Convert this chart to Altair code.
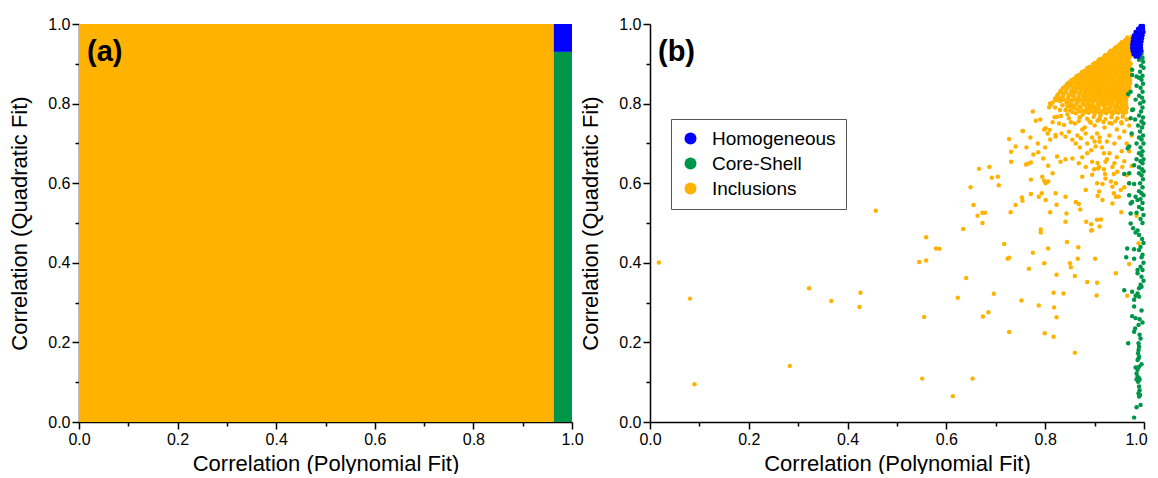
import altair as alt
import pandas as pd

# ---------------- Panel (a): classification regions ----------------
region_names = ["Inclusions", "Core-Shell", "Homogeneous"]
region_x0 = [0.0, 0.963, 0.963]
region_x1 = [0.963, 1.0, 1.0]
region_y0 = [0.0, 0.0, 0.93]
region_y1 = [1.0, 0.93, 1.0]

categories = ["Homogeneous", "Core-Shell", "Inclusions"]
colors = ["#0000FF", "#00964A", "#FFB300"]

tick_values = [0.0, 0.1, 0.2, 0.3, 0.4, 0.5, 0.6, 0.7, 0.8, 0.9, 1.0]
x_title = "Correlation (Polynomial Fit)"
y_title = "Correlation (Quadratic Fit)"

# ---------------- Panel (b): measured particles ----------------
inclusions_sparse = [
    (0.018, 0.401), (0.081, 0.310), (0.090, 0.095), (0.283, 0.141), (0.322, 0.336),
    (0.367, 0.304), (0.426, 0.325), (0.424, 0.289), (0.457, 0.531), (0.545, 0.402),
    (0.559, 0.406), (0.551, 0.109), (0.653, 0.109), (0.613, 0.065), (0.555, 0.264),
    (0.674, 0.265), (0.685, 0.276), (0.623, 0.312), (0.696, 0.322), (0.640, 0.362),
    (0.727, 0.226), (0.799, 0.223), (0.817, 0.214), (0.860, 0.174), (0.752, 0.305),
    (0.787, 0.293), (0.818, 0.288), (0.823, 0.263), (0.817, 0.325), (0.837, 0.323),
    (0.904, 0.318), (0.966, 0.317), (0.885, 0.352), (0.905, 0.350), (0.823, 0.370),
    (0.860, 0.367), (0.943, 0.374), (0.970, 0.397), (0.767, 0.385), (0.775, 0.425),
    (0.724, 0.410), (0.727, 0.413), (0.798, 0.399), (0.850, 0.399), (0.852, 0.389),
    (0.866, 0.410), (0.901, 0.410), (0.844, 0.452), (0.867, 0.439), (0.806, 0.436),
    (0.717, 0.447), (0.579, 0.436), (0.586, 0.435), (0.559, 0.464), (0.791, 0.484),
    (0.791, 0.476), (0.634, 0.485), (0.673, 0.500), (0.663, 0.518), (0.673, 0.526),
    (0.678, 0.526), (0.730, 0.527), (0.810, 0.527), (0.823, 0.546), (0.862, 0.553),
    (0.871, 0.534), (0.843, 0.524), (0.841, 0.503), (0.883, 0.503), (0.893, 0.497),
    (0.895, 0.482), (0.893, 0.481), (0.905, 0.508), (0.913, 0.509), (0.910, 0.491),
    (0.954, 0.527), (0.985, 0.518), (0.989, 0.449),
]

inclusions_mid = [
    (0.655, 0.545), (0.740, 0.545), (0.753, 0.564), (0.754, 0.556), (0.771, 0.573),
    (0.793, 0.575), (0.649, 0.590), (0.706, 0.595), (0.692, 0.614), (0.704, 0.616),
    (0.771, 0.609), (0.798, 0.606), (0.806, 0.604), (0.666, 0.636), (0.687, 0.641),
    (0.731, 0.654), (0.761, 0.647), (0.765, 0.649), (0.771, 0.652), (0.806, 0.644),
    (0.776, 0.672), (0.786, 0.678), (0.796, 0.662), (0.731, 0.679), (0.740, 0.692),
    (0.727, 0.711), (0.755, 0.731), (0.781, 0.757), (0.798, 0.735),
    (0.895, 0.654), (0.906, 0.651), (0.899, 0.635), (0.907, 0.637), (0.919, 0.635),
    (0.921, 0.623), (0.939, 0.623), (0.933, 0.604), (0.936, 0.591), (0.953, 0.583),
    (0.939, 0.575), (0.943, 0.566), (0.906, 0.568), (0.916, 0.598), (0.975, 0.643),
    (0.956, 0.641),
    (0.821, 0.575), (0.841, 0.566), (0.868, 0.548), (0.882, 0.583), (0.909, 0.579),
    (0.916, 0.558), (0.936, 0.549), (0.949, 0.566), (0.868, 0.650), (0.882, 0.641),
    (0.909, 0.641), (0.922, 0.654), (0.936, 0.641), (0.946, 0.629), (0.875, 0.616),
    (0.895, 0.621), (0.922, 0.612), (0.943, 0.600), (0.905, 0.600), (0.855, 0.662),
    (0.841, 0.660), (0.831, 0.654), (0.824, 0.667), (0.893, 0.683), (0.902, 0.692),
    (0.910, 0.704), (0.919, 0.675), (0.801, 0.600), (0.815, 0.625), (0.794, 0.616),
    (0.787, 0.566), (0.801, 0.558),
    (0.821, 0.717), (0.833, 0.725), (0.841, 0.717), (0.848, 0.729), (0.855, 0.709),
    (0.862, 0.700), (0.872, 0.713), (0.882, 0.725), (0.828, 0.750), (0.838, 0.746),
    (0.801, 0.738), (0.809, 0.734), (0.819, 0.766), (0.830, 0.784), (0.832, 0.769),
    (0.852, 0.792), (0.860, 0.796), (0.835, 0.796), (0.841, 0.784), (0.808, 0.791),
    (0.812, 0.798), (0.821, 0.809), (0.828, 0.813), (0.855, 0.834), (0.854, 0.822),
    (0.815, 0.753), (0.824, 0.767), (0.821, 0.721), (0.754, 0.731), (0.790, 0.760),
    (0.805, 0.725), (0.785, 0.700), (0.770, 0.715), (0.762, 0.690), (0.800, 0.690),
    (0.810, 0.710), (0.775, 0.780), (0.820, 0.790), (0.835, 0.810), (0.810, 0.800),
    (0.870, 0.690), (0.885, 0.700), (0.895, 0.715), (0.905, 0.725), (0.915, 0.690),
    (0.925, 0.705), (0.930, 0.720), (0.940, 0.700), (0.950, 0.715), (0.960, 0.730),
    (0.965, 0.700), (0.955, 0.680), (0.945, 0.665), (0.930, 0.675), (0.960, 0.655),
    (0.970, 0.680), (0.975, 0.720), (0.880, 0.740), (0.890, 0.755), (0.900, 0.745),
    (0.910, 0.760), (0.920, 0.740), (0.935, 0.750), (0.945, 0.735), (0.955, 0.750),
    (0.965, 0.760), (0.970, 0.745), (0.860, 0.750), (0.870, 0.765), (0.875, 0.735),
    (0.865, 0.720), (0.900, 0.705), (0.910, 0.715), (0.885, 0.675), (0.875, 0.665),
    (0.925, 0.660), (0.940, 0.650), (0.965, 0.620), (0.970, 0.600), (0.960, 0.590),
]

inclusions_dense = [
    (0.966, 0.966), (0.972, 0.962), (0.975, 0.968), (0.962, 0.959), (0.969, 0.960),
    (0.955, 0.954), (0.961, 0.957), (0.967, 0.953), (0.973, 0.956),
    (0.952, 0.950), (0.958, 0.951), (0.964, 0.949), (0.970, 0.951),
    (0.944, 0.943), (0.950, 0.947), (0.957, 0.944), (0.963, 0.946), (0.970, 0.942), (0.975, 0.947),
    (0.941, 0.939), (0.948, 0.940), (0.955, 0.940), (0.962, 0.939), (0.969, 0.938), (0.974, 0.940),
    (0.933, 0.933), (0.940, 0.936), (0.947, 0.932), (0.954, 0.937), (0.961, 0.934), (0.968, 0.931),
    (0.974, 0.936),
    (0.930, 0.929), (0.937, 0.930), (0.944, 0.929), (0.951, 0.930), (0.958, 0.929), (0.965, 0.928),
    (0.972, 0.930),
    (0.922, 0.922), (0.930, 0.926), (0.937, 0.923), (0.944, 0.927), (0.952, 0.924), (0.959, 0.921),
    (0.966, 0.926), (0.973, 0.923),
    (0.920, 0.919), (0.927, 0.920), (0.935, 0.919), (0.943, 0.920), (0.951, 0.919), (0.958, 0.918),
    (0.965, 0.920), (0.972, 0.919),
    (0.911, 0.912), (0.918, 0.916), (0.926, 0.913), (0.934, 0.917), (0.942, 0.914), (0.950, 0.911),
    (0.957, 0.916), (0.964, 0.913), (0.971, 0.917),
    (0.908, 0.909), (0.915, 0.910), (0.922, 0.909), (0.930, 0.910), (0.938, 0.909), (0.946, 0.908),
    (0.954, 0.910), (0.961, 0.909), (0.968, 0.910),
    (0.900, 0.902), (0.908, 0.906), (0.916, 0.903), (0.924, 0.907), (0.932, 0.904), (0.940, 0.901),
    (0.948, 0.906), (0.956, 0.903), (0.963, 0.907), (0.971, 0.904),
    (0.897, 0.899), (0.904, 0.900), (0.912, 0.899), (0.920, 0.900), (0.928, 0.899), (0.936, 0.898),
    (0.944, 0.900), (0.952, 0.899), (0.960, 0.900), (0.967, 0.899), (0.973, 0.900),
    (0.889, 0.892), (0.897, 0.896), (0.905, 0.893), (0.913, 0.897), (0.921, 0.894), (0.929, 0.891),
    (0.937, 0.896), (0.945, 0.893), (0.953, 0.897), (0.961, 0.894), (0.969, 0.891),
    (0.885, 0.889), (0.893, 0.890), (0.901, 0.889), (0.909, 0.890), (0.917, 0.889), (0.925, 0.888),
    (0.933, 0.890), (0.941, 0.889), (0.949, 0.890), (0.957, 0.889), (0.965, 0.890), (0.972, 0.889),
    (0.879, 0.882), (0.887, 0.886), (0.895, 0.883), (0.903, 0.887), (0.911, 0.884), (0.919, 0.881),
    (0.927, 0.886), (0.935, 0.883), (0.943, 0.887), (0.951, 0.884), (0.959, 0.881), (0.967, 0.886),
    (0.874, 0.879), (0.882, 0.880), (0.890, 0.879), (0.898, 0.880), (0.906, 0.879), (0.914, 0.878),
    (0.922, 0.880), (0.930, 0.879), (0.938, 0.880), (0.946, 0.879), (0.954, 0.880), (0.962, 0.879),
    (0.969, 0.880),
    (0.868, 0.872), (0.876, 0.876), (0.884, 0.873), (0.892, 0.877), (0.900, 0.874), (0.908, 0.871),
    (0.916, 0.876), (0.924, 0.873), (0.932, 0.877), (0.940, 0.874), (0.948, 0.871), (0.956, 0.876),
    (0.964, 0.873), (0.971, 0.877),
    (0.863, 0.869), (0.871, 0.870), (0.879, 0.869), (0.887, 0.870), (0.895, 0.869), (0.903, 0.868),
    (0.911, 0.870), (0.919, 0.869), (0.927, 0.870), (0.935, 0.869), (0.943, 0.870), (0.951, 0.869),
    (0.959, 0.870), (0.966, 0.869), (0.973, 0.870),
    (0.858, 0.862), (0.866, 0.866), (0.874, 0.863), (0.882, 0.867), (0.890, 0.864), (0.898, 0.861),
    (0.906, 0.866), (0.914, 0.863), (0.922, 0.867), (0.930, 0.864), (0.938, 0.861), (0.946, 0.866),
    (0.954, 0.863), (0.962, 0.867), (0.969, 0.862),
    (0.853, 0.859), (0.861, 0.860), (0.869, 0.859), (0.877, 0.860), (0.885, 0.859), (0.893, 0.858),
    (0.901, 0.860), (0.909, 0.859), (0.917, 0.860), (0.925, 0.859), (0.933, 0.860), (0.941, 0.859),
    (0.949, 0.860), (0.957, 0.859), (0.965, 0.860), (0.972, 0.859),
    (0.848, 0.853), (0.857, 0.856), (0.865, 0.852), (0.873, 0.857), (0.881, 0.854), (0.889, 0.851),
    (0.897, 0.856), (0.905, 0.853), (0.913, 0.857), (0.921, 0.854), (0.929, 0.851), (0.937, 0.856),
    (0.945, 0.853), (0.953, 0.857), (0.961, 0.854), (0.968, 0.851),
    (0.844, 0.849), (0.853, 0.850), (0.861, 0.849), (0.869, 0.850), (0.877, 0.849), (0.885, 0.848),
    (0.893, 0.850), (0.901, 0.849), (0.909, 0.850), (0.917, 0.849), (0.925, 0.850), (0.933, 0.849),
    (0.941, 0.850), (0.949, 0.849), (0.957, 0.850), (0.965, 0.849), (0.972, 0.850),
    (0.840, 0.843), (0.850, 0.846), (0.860, 0.842), (0.868, 0.847), (0.876, 0.844), (0.884, 0.841),
    (0.892, 0.846), (0.900, 0.843), (0.908, 0.847), (0.916, 0.844), (0.924, 0.841), (0.932, 0.846),
    (0.940, 0.843), (0.948, 0.847), (0.956, 0.844), (0.964, 0.841),
    (0.836, 0.839), (0.846, 0.840), (0.856, 0.839), (0.866, 0.840), (0.874, 0.839), (0.882, 0.838),
    (0.890, 0.840), (0.898, 0.839), (0.906, 0.840), (0.914, 0.839), (0.922, 0.840), (0.930, 0.839),
    (0.938, 0.840), (0.946, 0.839), (0.954, 0.840), (0.962, 0.839), (0.970, 0.840),
    (0.832, 0.833), (0.843, 0.836), (0.853, 0.832), (0.863, 0.837), (0.872, 0.834), (0.880, 0.831),
    (0.888, 0.836), (0.896, 0.833), (0.904, 0.837), (0.912, 0.834), (0.920, 0.831), (0.928, 0.836),
    (0.936, 0.833), (0.944, 0.837), (0.952, 0.834), (0.960, 0.831), (0.967, 0.835),
    (0.830, 0.829), (0.842, 0.830), (0.852, 0.829), (0.862, 0.830), (0.871, 0.829), (0.880, 0.828),
    (0.890, 0.830), (0.898, 0.829), (0.906, 0.830), (0.914, 0.829), (0.922, 0.830), (0.930, 0.829),
    (0.938, 0.830), (0.946, 0.829), (0.954, 0.830), (0.962, 0.829), (0.969, 0.830),
    (0.826, 0.823), (0.838, 0.826), (0.848, 0.822), (0.858, 0.827), (0.868, 0.824), (0.877, 0.821),
    (0.886, 0.826), (0.894, 0.823), (0.902, 0.827), (0.910, 0.824), (0.918, 0.821), (0.926, 0.826),
    (0.934, 0.823), (0.942, 0.827), (0.950, 0.824), (0.958, 0.821), (0.965, 0.826),
    (0.824, 0.819), (0.836, 0.820), (0.847, 0.819), (0.858, 0.820), (0.868, 0.819), (0.877, 0.818),
    (0.886, 0.820), (0.895, 0.819), (0.904, 0.820), (0.912, 0.819), (0.920, 0.820), (0.928, 0.819),
    (0.936, 0.820), (0.944, 0.819), (0.952, 0.820), (0.960, 0.819), (0.968, 0.820),
    (0.820, 0.813), (0.834, 0.816), (0.846, 0.812), (0.857, 0.817), (0.867, 0.814), (0.876, 0.811),
    (0.885, 0.816), (0.893, 0.813), (0.901, 0.817), (0.909, 0.814), (0.917, 0.811), (0.925, 0.816),
    (0.933, 0.813), (0.941, 0.817), (0.949, 0.814), (0.957, 0.811), (0.964, 0.816),
    (0.824, 0.809), (0.838, 0.810), (0.850, 0.809), (0.861, 0.810), (0.871, 0.809), (0.881, 0.808),
    (0.890, 0.810), (0.899, 0.809), (0.908, 0.810), (0.916, 0.809), (0.924, 0.810), (0.932, 0.809),
    (0.940, 0.810), (0.948, 0.809), (0.956, 0.810), (0.964, 0.809),
    (0.815, 0.803), (0.830, 0.806), (0.843, 0.802), (0.855, 0.807), (0.866, 0.804), (0.876, 0.801),
    (0.886, 0.806), (0.895, 0.803), (0.904, 0.807), (0.912, 0.804), (0.920, 0.801), (0.928, 0.806),
    (0.936, 0.803), (0.944, 0.807), (0.952, 0.804), (0.960, 0.801),
    (0.850, 0.799), (0.864, 0.800), (0.876, 0.799), (0.886, 0.800), (0.896, 0.799), (0.906, 0.798),
    (0.916, 0.800), (0.926, 0.799), (0.936, 0.800), (0.946, 0.799), (0.955, 0.800), (0.964, 0.799),
    (0.845, 0.793), (0.858, 0.796), (0.870, 0.792), (0.880, 0.797), (0.890, 0.794), (0.900, 0.791),
    (0.910, 0.796), (0.920, 0.793), (0.930, 0.797), (0.940, 0.794), (0.950, 0.791), (0.958, 0.796),
    (0.858, 0.789), (0.872, 0.790), (0.884, 0.789), (0.896, 0.790), (0.908, 0.789), (0.920, 0.788),
    (0.932, 0.790), (0.944, 0.789), (0.955, 0.790), (0.965, 0.789),
    (0.850, 0.783), (0.865, 0.786), (0.878, 0.782), (0.890, 0.787), (0.902, 0.784), (0.914, 0.781),
    (0.926, 0.786), (0.938, 0.783), (0.950, 0.787), (0.960, 0.784),
    (0.855, 0.779), (0.870, 0.780), (0.883, 0.779), (0.895, 0.780), (0.907, 0.779), (0.919, 0.778),
    (0.931, 0.780), (0.943, 0.779), (0.954, 0.780), (0.964, 0.779),
    (0.845, 0.773), (0.862, 0.776), (0.876, 0.772), (0.888, 0.777), (0.900, 0.774), (0.912, 0.771),
    (0.924, 0.776), (0.936, 0.773), (0.948, 0.777), (0.958, 0.774),
    (0.848, 0.763), (0.870, 0.766), (0.885, 0.762), (0.898, 0.767), (0.910, 0.764), (0.922, 0.761),
    (0.934, 0.766), (0.946, 0.763), (0.957, 0.767),
    (0.852, 0.753), (0.868, 0.756), (0.892, 0.752), (0.906, 0.757), (0.918, 0.754), (0.930, 0.751),
    (0.942, 0.756), (0.954, 0.753),
]

core_shell = [
    (0.995, 0.925), (0.997, 0.915), (0.990, 0.910), (0.998, 0.905), (0.994, 0.895),
    (0.999, 0.890), (0.976, 0.885), (0.992, 0.880), (0.976, 0.872), (0.997, 0.870),
    (0.990, 0.865), (0.985, 0.868), (0.995, 0.860), (0.998, 0.850), (0.985, 0.845),
    (0.993, 0.840), (0.973, 0.830), (0.997, 0.830), (0.968, 0.824), (0.990, 0.820),
    (0.996, 0.815), (0.983, 0.810), (0.999, 0.805), (0.992, 0.800), (0.997, 0.790),
    (0.978, 0.785), (0.976, 0.784), (0.994, 0.780), (0.990, 0.770), (0.998, 0.765),
    (0.973, 0.763), (0.982, 0.760), (0.995, 0.755), (0.999, 0.750), (0.988, 0.745),
    (0.996, 0.740), (0.992, 0.730), (0.975, 0.725), (0.998, 0.720), (0.990, 0.715),
    (0.995, 0.710), (0.985, 0.700), (0.999, 0.700), (0.993, 0.690), (0.970, 0.692),
    (0.967, 0.688), (0.997, 0.680), (0.990, 0.675), (0.995, 0.670), (0.985, 0.660),
    (0.999, 0.660), (0.993, 0.655), (0.997, 0.650), (0.980, 0.645), (0.990, 0.640),
    (0.996, 0.635), (0.999, 0.630), (0.990, 0.625), (0.970, 0.625), (0.960, 0.623),
    (0.995, 0.620), (0.998, 0.610), (0.970, 0.600), (0.980, 0.598), (0.992, 0.600),
    (0.997, 0.590), (0.990, 0.580), (0.995, 0.575), (0.970, 0.570), (0.999, 0.570),
    (0.983, 0.566), (0.993, 0.560), (0.987, 0.558), (0.976, 0.553), (0.997, 0.550),
    (0.973, 0.549), (0.990, 0.540), (0.996, 0.535), (0.985, 0.526), (0.973, 0.524),
    (0.999, 0.520), (0.993, 0.510), (0.997, 0.500), (0.973, 0.499), (0.978, 0.487),
    (0.987, 0.481), (0.983, 0.476), (0.990, 0.470), (0.996, 0.460), (0.999, 0.450),
    (0.993, 0.440), (0.966, 0.436), (0.980, 0.434), (0.990, 0.432), (0.997, 0.420),
    (0.964, 0.414), (0.980, 0.410), (0.995, 0.414), (0.999, 0.400), (0.993, 0.390),
    (0.987, 0.382), (0.997, 0.382), (0.987, 0.374), (0.995, 0.365), (0.999, 0.355),
    (0.993, 0.345), (0.995, 0.340), (0.990, 0.336), (0.960, 0.331), (0.976, 0.327),
    (0.987, 0.323), (0.990, 0.315), (0.983, 0.317), (0.980, 0.307), (0.980, 0.290),
    (0.995, 0.280), (0.976, 0.266), (0.983, 0.261), (0.991, 0.258), (0.997, 0.250),
    (0.989, 0.244), (0.982, 0.235), (0.980, 0.227), (0.991, 0.219), (0.993, 0.210),
    (0.968, 0.198), (0.989, 0.198), (0.990, 0.189), (0.989, 0.181), (0.988, 0.173),
    (0.990, 0.164), (0.989, 0.160), (0.987, 0.156), (0.995, 0.145), (0.990, 0.139),
    (0.983, 0.137), (0.987, 0.131), (0.985, 0.122), (0.987, 0.114), (0.990, 0.110),
    (0.985, 0.107), (0.991, 0.106), (0.988, 0.101), (0.990, 0.089), (0.991, 0.080),
    (0.989, 0.072), (0.992, 0.068), (0.990, 0.064), (0.993, 0.043), (0.985, 0.037),
    (0.980, 0.011),
]

homogeneous = [
    (0.993, 0.995), (0.998, 0.995),
    (0.988, 0.988), (0.994, 0.988), (0.998, 0.988),
    (0.983, 0.980), (0.989, 0.980), (0.995, 0.980), (0.999, 0.980),
    (0.980, 0.972), (0.986, 0.972), (0.992, 0.972), (0.997, 0.972),
    (0.978, 0.964), (0.984, 0.964), (0.990, 0.964), (0.996, 0.964),
    (0.977, 0.956), (0.983, 0.956), (0.989, 0.956), (0.995, 0.956),
    (0.976, 0.948), (0.982, 0.948), (0.988, 0.948), (0.994, 0.948),
    (0.976, 0.940), (0.982, 0.940), (0.988, 0.940), (0.994, 0.940),
    (0.977, 0.932), (0.983, 0.932), (0.989, 0.932), (0.995, 0.932),
    (0.979, 0.924), (0.985, 0.924), (0.991, 0.924),
    (0.983, 0.918), (0.989, 0.918),
]

FONT = "Liberation Sans"

df_a = pd.DataFrame({"name": region_names, "x0": region_x0, "x1": region_x1,
                     "y0": region_y0, "y1": region_y1})

rows = []
for name, pts in [("Inclusions", inclusions_sparse + inclusions_mid + inclusions_dense),
                  ("Core-Shell", core_shell), ("Homogeneous", homogeneous)]:
    for (px, py) in pts:
        rows.append({"cls": name, "px": px, "py": py})
df_b = pd.DataFrame(rows)

label_expr = "(round(datum.value * 10) % 2 == 0) ? format(datum.value, '.1f') : ''"
tick_len = {"condition": {"test": "round(datum.value * 10) % 2 == 0", "value": 7}, "value": 4}


def make_axis(title, title_pad, last_shift=0):
    extra = {}
    if last_shift:
        extra["labelOffset"] = {"condition": {"test": "datum.value >= 0.99", "value": last_shift},
                                "value": 0}
    return alt.Axis(
        title=title, values=tick_values, labelExpr=label_expr, tickSize=tick_len,
        grid=False, labelFlush=False, labelOverlap=False,
        domainColor="black", domainWidth=1.5, tickColor="black", tickWidth=1.5,
        labelFont=FONT, labelFontSize=16, labelColor="black", labelPadding=2,
        titleFont=FONT, titleFontSize=22, titleFontWeight="normal", titleColor="black",
        titlePadding=title_pad, **extra,
    )


sc = alt.Scale(domain=[0, 1], nice=False, zero=False)

W, H = 493, 398

rect = alt.Chart(df_a).mark_rect().encode(
    x=alt.X("x0:Q", scale=sc, axis=make_axis(x_title, 6)),
    x2="x1:Q",
    y=alt.Y("y0:Q", scale=sc, axis=make_axis(y_title, 16)),
    y2="y1:Q",
    color=alt.Color("name:N", scale=alt.Scale(domain=categories, range=colors), legend=None),
)
lab_a = alt.Chart(pd.DataFrame({"t": ["(a)"]})).mark_text(
    font=FONT, fontSize=29, fontWeight="bold", align="left", baseline="middle", color="black"
).encode(text="t:N", x=alt.value(8), y=alt.value(28))
panel_a = alt.layer(rect, lab_a).properties(width=W, height=H)

pts = alt.Chart(df_b).mark_circle(size=20, opacity=1).encode(
    x=alt.X("px:Q", scale=sc, axis=make_axis(x_title, 6, last_shift=-8)),
    y=alt.Y("py:Q", scale=sc, axis=make_axis(y_title, 16)),
    color=alt.Color("cls:N", scale=alt.Scale(domain=categories, range=colors), legend=alt.Legend(
        title=None, orient="none", legendX=21, legendY=95,
        symbolType="circle", symbolSize=144, symbolStrokeWidth=0, symbolOpacity=1,
        labelFont=FONT, labelFontSize=19, labelColor="black", labelOffset=12,
        strokeColor="#555555", fillColor="white", padding=10, rowPadding=5,
    )),
)
lab_b = alt.Chart(pd.DataFrame({"t": ["(b)"]})).mark_text(
    font=FONT, fontSize=29, fontWeight="bold", align="left", baseline="middle", color="black"
).encode(text="t:N", x=alt.value(8), y=alt.value(28))
panel_b = alt.layer(pts, lab_b).properties(width=W + 1, height=H)

chart = alt.hconcat(panel_a, panel_b, spacing=78, bounds="flush").resolve_scale(
    color="independent"
).configure_view(stroke=None).properties(
    padding={"left": 0, "top": 8, "right": 0, "bottom": 0}, background="white"
)

chart.save("out.html", embed_options={"renderer": "svg", "actions": False})
